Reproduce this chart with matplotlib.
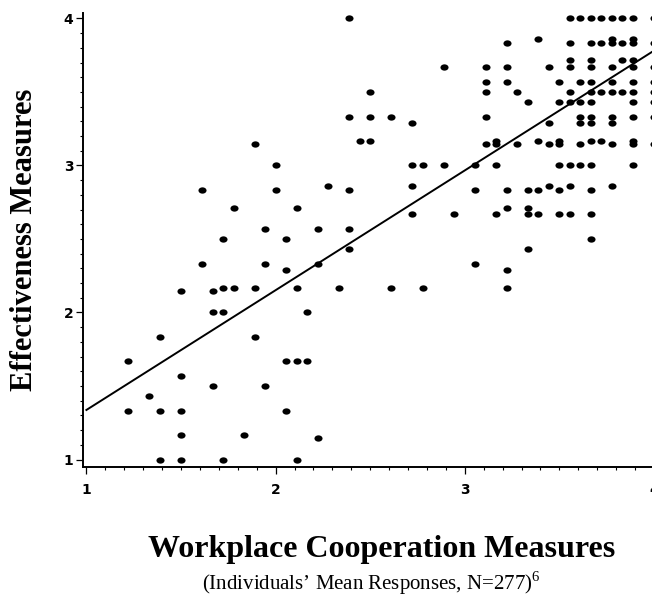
import numpy as np
import matplotlib
matplotlib.use("Agg")
import matplotlib.pyplot as plt
from matplotlib.path import Path
from matplotlib.transforms import Affine2D
from matplotlib.ticker import MultipleLocator

# individuals' mean responses, grouped by x column
resp_x = [
    1.222, 1.222,
    1.333,
    1.389, 1.389, 1.389,
    1.5, 1.5, 1.5, 1.5, 1.5,
    1.611, 1.611,
    1.667, 1.667, 1.667,
    1.722, 1.722, 1.722, 1.722,
    1.778, 1.778,
    1.833,
    1.889, 1.889, 1.889,
    1.944, 1.944, 1.944,
    2.0, 2.0,
    2.056, 2.056, 2.056, 2.056,
    2.111, 2.111, 2.111, 2.111,
    2.167, 2.167,
    2.222, 2.222, 2.222,
    2.278,
    2.333,
    2.389, 2.389, 2.389, 2.389, 2.389,
    2.444,
    2.5, 2.5, 2.5,
    2.611, 2.611,
    2.722, 2.722, 2.722, 2.722,
    2.778, 2.778,
    2.889, 2.889,
    2.944,
    3.056, 3.056, 3.056,
    3.111, 3.111, 3.111, 3.111, 3.111,
    3.167, 3.167, 3.167, 3.167,
    3.222, 3.222, 3.222, 3.222, 3.222, 3.222, 3.222,
    3.278, 3.278,
    3.333, 3.333, 3.333, 3.333, 3.333,
    3.389, 3.389, 3.389, 3.389,
    3.444, 3.444, 3.444, 3.444,
    3.5, 3.5, 3.5, 3.5, 3.5, 3.5, 3.5,
    3.556, 3.556, 3.556, 3.556, 3.556, 3.556, 3.556, 3.556, 3.556,
    3.611, 3.611, 3.611, 3.611, 3.611, 3.611, 3.611,
    3.667, 3.667, 3.667, 3.667, 3.667, 3.667, 3.667, 3.667, 3.667, 3.667, 3.667, 3.667, 3.667, 3.667,
    3.722, 3.722, 3.722, 3.722,
    3.778, 3.778, 3.778, 3.778, 3.778, 3.778, 3.778, 3.778, 3.778, 3.778,
    3.833, 3.833, 3.833, 3.833,
    3.889, 3.889, 3.889, 3.889, 3.889, 3.889, 3.889, 3.889, 3.889, 3.889, 3.889, 3.889,
    4.0, 4.0, 4.0, 4.0, 4.0, 4.0, 4.0, 4.0,
]
resp_y = [
    1.667, 1.333,
    1.429,
    1.833, 1.333, 1.0,
    2.143, 1.571, 1.333, 1.167, 1.0,
    2.833, 2.333,
    2.143, 2.0, 1.5,
    2.5, 2.167, 2.0, 1.0,
    2.714, 2.167,
    1.167,
    3.143, 2.167, 1.833,
    2.571, 2.333, 1.5,
    3.0, 2.833,
    2.5, 2.286, 1.667, 1.333,
    2.714, 2.167, 1.667, 1.0,
    2.0, 1.667,
    2.571, 2.333, 1.143,
    2.857,
    2.167,
    4.0, 3.333, 2.833, 2.571, 2.429,
    3.167,
    3.5, 3.333, 3.167,
    3.333, 2.167,
    3.286, 3.0, 2.857, 2.667,
    3.0, 2.167,
    3.667, 3.0,
    2.667,
    3.0, 2.833, 2.333,
    3.667, 3.571, 3.5, 3.333, 3.143,
    3.167, 3.143, 3.0, 2.667,
    3.833, 3.667, 3.571, 2.833, 2.714, 2.286, 2.167,
    3.5, 3.143,
    3.429, 2.833, 2.714, 2.667, 2.429,
    3.857, 3.167, 2.833, 2.667,
    3.667, 3.286, 3.143, 2.857,
    3.571, 3.429, 3.167, 3.143, 3.0, 2.833, 2.667,
    4.0, 3.833, 3.714, 3.667, 3.5, 3.429, 3.0, 2.857, 2.667,
    4.0, 3.571, 3.429, 3.333, 3.286, 3.143, 3.0,
    4.0, 3.833, 3.714, 3.667, 3.571, 3.5, 3.429, 3.333, 3.286, 3.167, 3.0, 2.833, 2.667, 2.5,
    4.0, 3.833, 3.5, 3.167,
    4.0, 3.857, 3.833, 3.667, 3.571, 3.5, 3.333, 3.286, 3.143, 2.857,
    4.0, 3.833, 3.714, 3.5,
    4.0, 3.857, 3.833, 3.714, 3.667, 3.571, 3.5, 3.429, 3.333, 3.167, 3.143, 3.0,
    4.0, 3.833, 3.667, 3.571, 3.5, 3.429, 3.333, 3.143,
]

# fitted regression line end points
fit_x = [1.0, 4.0]
fit_y = [1.337, 3.781]

tick_vals = [1, 2, 3, 4]

plt.rcParams['mathtext.fontset'] = 'custom'
plt.rcParams['mathtext.rm'] = 'Liberation Serif'

fig = plt.figure(figsize=(6.52, 5.98), dpi=100)
ax = fig.add_axes([83 / 652, 1 - 467.3 / 598, (654 - 83) / 652, (467.3 - 13.3) / 598])

# slightly flattened dot, like the original plot symbols
dot = Path.unit_circle().transformed(Affine2D().scale(1.0, 0.78))
ax.scatter(resp_x, resp_y, marker=dot, s=34, color='black', linewidths=0,
           clip_on=False, zorder=3)
ax.plot(fit_x, fit_y, color='black', lw=1.4, zorder=2)

ax.set_xlim(0.982, 4.0)
ax.set_ylim(0.947, 4.035)
for s in ['top', 'right']:
    ax.spines[s].set_visible(False)
for s in ['left', 'bottom']:
    ax.spines[s].set_linewidth(1.4)

ax.set_xticks(tick_vals)
ax.set_yticks(tick_vals)
ax.xaxis.set_minor_locator(MultipleLocator(0.1))
ax.yaxis.set_minor_locator(MultipleLocator(0.1))
ax.tick_params(which='major', length=5, width=0.9, direction='out')
ax.tick_params(which='minor', length=2.5, width=0.8, direction='out')
ax.tick_params(axis='x', which='major', pad=6)
ax.tick_params(axis='y', which='major', pad=2)
for lab in ax.get_xticklabels() + ax.get_yticklabels():
    lab.set_fontfamily('DejaVu Sans')
    lab.set_fontweight('bold')
    lab.set_fontsize(10)

fig.text(25 / 652, 1 - 240 / 598, 'Effectiveness Measures', rotation=90,
         ha='center', va='center', family='Liberation Serif', weight='bold',
         fontsize=22)
fig.text(382 / 652, 1 - 557 / 598, 'Workplace Cooperation Measures',
         ha='center', va='baseline', family='Liberation Serif', weight='bold',
         fontsize=23)
fig.text(371 / 652, 1 - 590 / 598, '(Individuals\u2019 Mean Responses, N=277)$^{6}$',
         ha='center', va='baseline', family='Liberation Serif', fontsize=15)

fig.savefig('out.png', dpi=100)
